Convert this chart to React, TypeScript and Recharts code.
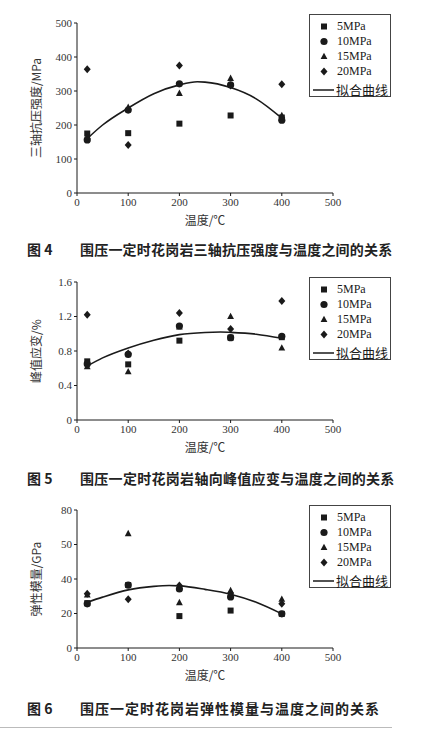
import React from "react";
import { ComposedChart, Scatter, Line, XAxis, YAxis, Legend } from "recharts";

// ---------- data ----------
const temps = [20, 100, 200, 300, 400];
const xTicks = [0, 100, 200, 300, 400, 500];
const seriesNames = ["5MPa", "10MPa", "15MPa", "20MPa"];
const fitName = "拟合曲线";

// Fig 4: triaxial compressive strength (MPa)
const s4_5 = [175, 176, 204, 228, 222];
const s4_10 = [156, 244, 321, 318, 214];
const s4_15 = [166, 252, 293, 337, 228];
const s4_20 = [364, 141, 375, 316, 320];
const fit4X = [20, 50, 100, 150, 200, 235, 250, 300, 350, 400];
const fit4Y = [160, 200, 250, 292, 318, 327, 326, 310, 277, 220];
const yTicks4 = [0, 100, 200, 300, 400, 500];
const yLabels4 = ["0", "100", "200", "300", "400", "500"];

// Fig 5: peak axial strain (%)
const s5_5 = [0.68, 0.645, 0.92, 0.955, 0.96];
const s5_10 = [0.65, 0.76, 1.09, 0.955, 0.97];
const s5_15 = [0.62, 0.56, 1.08, 1.2, 0.835];
const s5_20 = [1.22, 0.77, 1.24, 1.055, 1.38];
const fit5X = [20, 50, 100, 150, 200, 250, 280, 300, 350, 400];
const fit5Y = [0.626, 0.72, 0.835, 0.925, 0.99, 1.015, 1.02, 1.016, 0.995, 0.947];
const yTicks5 = [0, 0.4, 0.8, 1.2, 1.6];
const yLabels5 = ["0", "0.4", "0.8", "1.2", "1.6"];

// Fig 6: elastic modulus (GPa)
const s6_5 = [26, 36.5, 18.5, 21.7, 19.8];
const s6_10 = [25.6, 36.5, 34.2, 29.6, 19.8];
const s6_15 = [30.8, 66.3, 26.3, 33.3, 28.3];
const s6_20 = [31.5, 28.3, 36.2, 31.7, 25.6];
const fit6X = [20, 50, 100, 150, 180, 200, 250, 300, 350, 400];
const fit6Y = [26.5, 29.5, 33.7, 35.7, 36.2, 36, 34, 31.2, 26.5, 19.8];
const yTicks6 = [0, 20, 40, 60, 80];
const yLabels6 = ["0", "20", "40", "50", "80"];

// ---------- styling ----------
const SERIF = '"Liberation Serif", "DejaVu Serif", serif';
const CJK = '"Noto Sans CJK SC", "Noto Sans CJK JP", sans-serif';
const INK = "#1a1a1a";

const toPts = (xs: number[], ys: number[]) => xs.map((x, i) => ({ x, y: ys[i] }));

const Square = (p: any) =>
  p.cx == null ? null : <rect x={p.cx - 3} y={p.cy - 3} width={6} height={6} fill={INK} />;
const Circle = (p: any) =>
  p.cx == null ? null : <circle cx={p.cx} cy={p.cy} r={3.6} fill={INK} />;
const Triangle = (p: any) =>
  p.cx == null ? null : (
    <polygon points={`${p.cx},${p.cy - 3.8} ${p.cx - 3.4},${p.cy + 2.6} ${p.cx + 3.4},${p.cy + 2.6}`} fill={INK} />
  );
const Diamond = (p: any) =>
  p.cx == null ? null : (
    <polygon points={`${p.cx},${p.cy - 4} ${p.cx + 3.5},${p.cy} ${p.cx},${p.cy + 4} ${p.cx - 3.5},${p.cy}`} fill={INK} />
  );
const shapes = [Square, Circle, Triangle, Diamond];
const rowCenters = [11, 26, 41, 56];

const LegendBox = () => (
  <div
    style={{
      width: 82,
      height: 83,
      border: "1px solid #444",
      background: "#fff",
      boxSizing: "border-box",
      position: "relative",
      fontFamily: SERIF,
      fontSize: 12,
      color: INK,
    }}
  >
    {seriesNames.map((n, i) => (
      <div key={n} style={{ position: "absolute", left: 0, top: rowCenters[i] - 6.5, height: 13, width: 80 }}>
        <svg width={20} height={13} style={{ position: "absolute", left: 7, top: 0 }}>
          {React.createElement(shapes[i], { cx: 7, cy: 6.5 })}
        </svg>
        <span style={{ position: "absolute", left: 27, top: 0, lineHeight: "13px", whiteSpace: "nowrap" }}>{n}</span>
      </div>
    ))}
    <div style={{ position: "absolute", left: 0, top: 68, height: 14, width: 80 }}>
      <svg width={26} height={14} style={{ position: "absolute", left: 1, top: 0 }}>
        <line x1={2} y1={7} x2={23} y2={7} stroke={INK} strokeWidth={1.5} />
      </svg>
      <span
        style={{
          position: "absolute",
          left: 26,
          top: 0,
          lineHeight: "14px",
          fontFamily: CJK,
          fontSize: 13,
          whiteSpace: "nowrap",
        }}
      >
        {fitName}
      </span>
    </div>
  </div>
);

type PanelProps = {
  top: number;
  height: number;
  mTop: number;
  mBottom: number;
  yTicks: number[];
  yLabels: string[];
  yLabel: string;
  series: number[][];
  fitX: number[];
  fitY: number[];
  legendTop: number;
};

const Panel = (props: PanelProps) => {
  const { top, height, mTop, mBottom, yTicks, yLabels, yLabel, series, fitX, fitY, legendTop } = props;
  const fmt = (v: number) => {
    const i = yTicks.indexOf(v);
    return i >= 0 ? yLabels[i] : String(v);
  };
  return (
    <div style={{ position: "absolute", left: 0, top, width: 447, height }}>
      <ComposedChart width={447} height={height} margin={{ top: mTop, right: 114, bottom: mBottom, left: 0 }}>
        <XAxis
          type="number"
          dataKey="x"
          domain={[0, 500]}
          ticks={xTicks}
          allowDataOverflow
          height={32}
          tickSize={3}
          tickMargin={2}
          stroke={INK}
          tick={{ fontFamily: SERIF, fontSize: 11, fill: "#333" }}
          label={{
            value: "温度/℃",
            position: "insideBottom",
            offset: 0,
            style: { fontFamily: CJK, fontSize: 12, fill: "#333" },
          }}
        />
        <YAxis
          type="number"
          dataKey="y"
          domain={[yTicks[0], yTicks[yTicks.length - 1]]}
          ticks={yTicks}
          tickFormatter={fmt}
          allowDataOverflow
          width={77}
          tickSize={3}
          tickMargin={2}
          stroke={INK}
          tick={{ fontFamily: SERIF, fontSize: 11, fill: "#333" }}
          label={{
            value: yLabel,
            angle: -90,
            position: "center",
            dx: -2,
            style: { fontFamily: CJK, fontSize: 12, fill: "#333", textAnchor: "middle" },
          }}
        />
        <Legend
          layout="horizontal"
          align="center"
          verticalAlign="middle"
          wrapperStyle={{ left: 309, top: legendTop, width: 82, height: 83 }}
          content={() => <LegendBox />}
        />
        {series.map((ys, i) => (
          <Scatter
            key={seriesNames[i]}
            name={seriesNames[i]}
            data={toPts(temps, ys)}
            dataKey="y"
            shape={shapes[i]}
            isAnimationActive={false}
          />
        ))}
        <Line
          name={fitName}
          data={toPts(fitX, fitY)}
          dataKey="y"
          type="monotone"
          stroke={INK}
          strokeWidth={1.6}
          dot={false}
          activeDot={false}
          isAnimationActive={false}
        />
      </ComposedChart>
    </div>
  );
};

const Caption = ({ top, num, text, spacing }: { top: number; num: string; text: string; spacing: number }) => (
  <div
    style={{
      position: "absolute",
      top,
      left: 0,
      width: 447,
      height: 20,
      fontFamily: CJK,
      fontWeight: 700,
      fontSize: 14,
      color: "#222",
      lineHeight: "20px",
    }}
  >
    <span style={{ position: "absolute", left: 27 }}>{num}</span>
    <span style={{ position: "absolute", left: 80, letterSpacing: spacing, whiteSpace: "nowrap" }}>{text}</span>
  </div>
);

export default function App() {
  return (
    <div style={{ position: "fixed", left: 0, top: 0, width: 447, height: 730, background: "#fff", overflow: "hidden" }}>
      <Panel
        top={0}
        height={230}
        mTop={23}
        mBottom={5}
        yTicks={yTicks4}
        yLabels={yLabels4}
        yLabel="三轴抗压强度/MPa"
        series={[s4_5, s4_10, s4_15, s4_20]}
        fitX={fit4X}
        fitY={fit4Y}
        legendTop={14}
      />
      <Caption top={239} num="图 4" text="围压一定时花岗岩三轴抗压强度与温度之间的关系" spacing={0.2} />
      <Panel
        top={260}
        height={200}
        mTop={22}
        mBottom={8}
        yTicks={yTicks5}
        yLabels={yLabels5}
        yLabel="峰值应变/%"
        series={[s5_5, s5_10, s5_15, s5_20]}
        fitX={fit5X}
        fitY={fit5Y}
        legendTop={17}
      />
      <Caption top={468} num="图 5" text="围压一定时花岗岩轴向峰值应变与温度之间的关系" spacing={0.3} />
      <Panel
        top={490}
        height={200}
        mTop={20}
        mBottom={10}
        yTicks={yTicks6}
        yLabels={yLabels6}
        yLabel="弹性模量/GPa"
        series={[s6_5, s6_10, s6_15, s6_20]}
        fitX={fit6X}
        fitY={fit6Y}
        legendTop={15}
      />
      <Caption top={698} num="图 6" text="围压一定时花岗岩弹性模量与温度之间的关系" spacing={1} />
      <div style={{ position: "absolute", left: 0, top: 727, width: 392, height: 1, background: "#bbb" }} />
    </div>
  );
}
